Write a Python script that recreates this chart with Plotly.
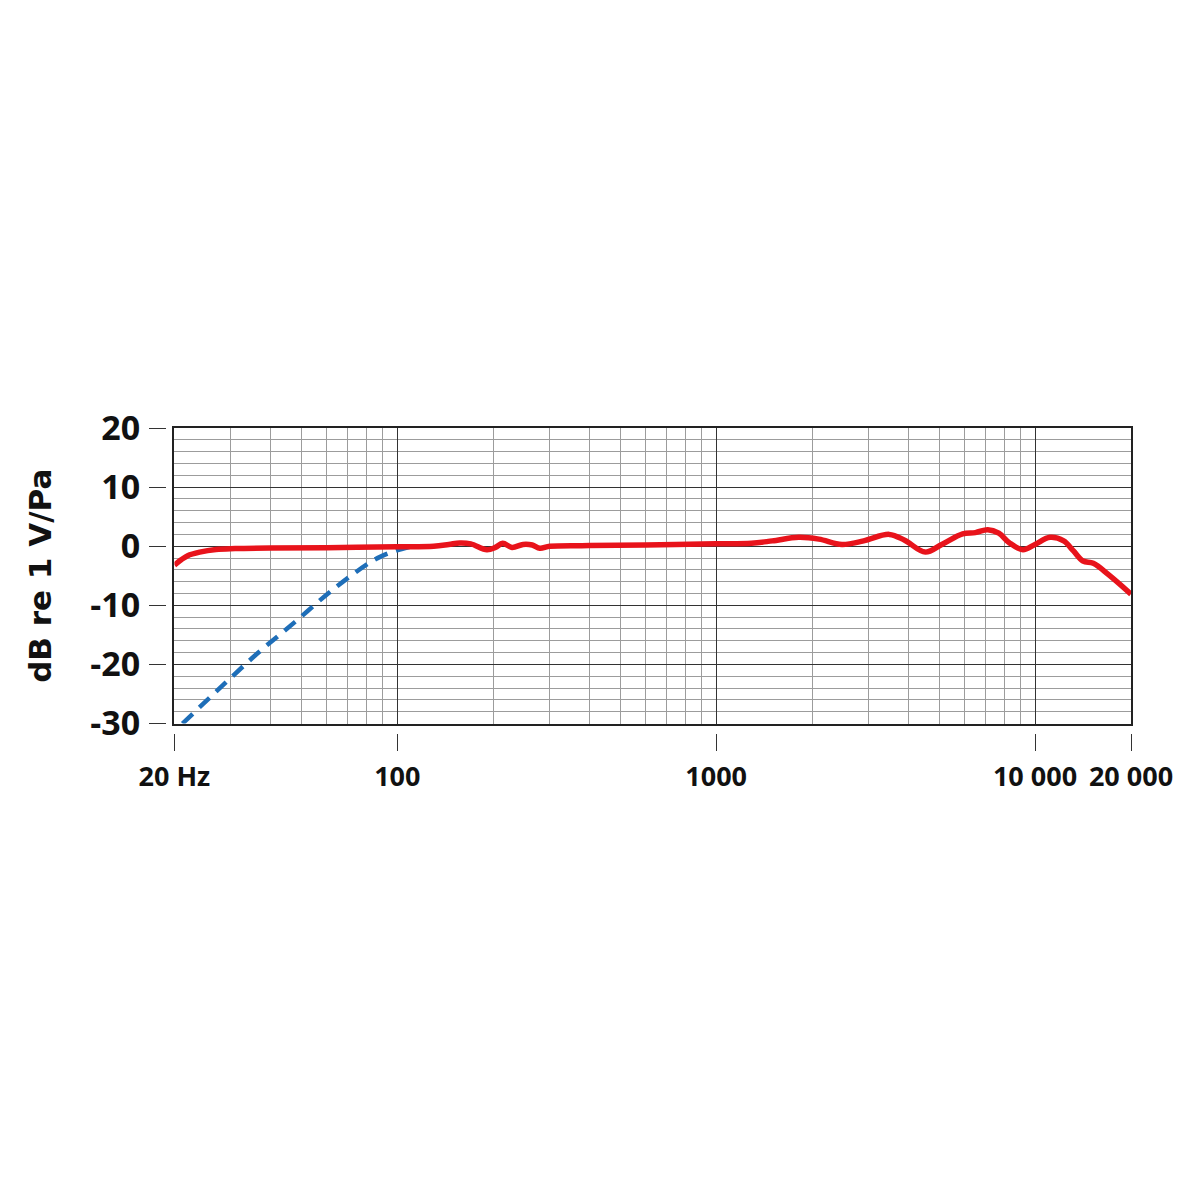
import math
import plotly.graph_objects as go

# frequency response (Hz, dB re 1 V/Pa)
red_freq = [20, 21, 22, 24, 27, 31, 40, 60, 100, 130, 145, 157, 170, 191, 203, 214, 229,
            248, 265, 280, 301, 400, 600, 1000, 1290, 1500, 1815, 2100, 2480, 2900, 3490,
            3900, 4530, 5100, 5930, 6500, 7110, 7700, 8300, 9160, 10000, 11150, 12300,
            13200, 14150, 15230, 17000, 20000]
red_db = [-3.2, -2.3, -1.6, -1.0, -0.55, -0.4, -0.3, -0.25, -0.1, 0.0, 0.3, 0.55, 0.4,
          -0.6, -0.2, 0.5, -0.2, 0.3, 0.2, -0.35, 0.0, 0.1, 0.2, 0.4, 0.5, 0.9, 1.5, 1.2,
          0.3, 0.9, 2.0, 1.0, -1.0, 0.3, 2.1, 2.3, 2.8, 2.2, 0.6, -0.6, 0.3, 1.5, 0.9,
          -0.8, -2.5, -2.9, -4.8, -8.1]

# low cut filter
blue_freq = [21.2, 27.9, 36.3, 47.8, 62.9, 81.8, 90, 99.2, 110]
blue_db = [-30.0, -23.9, -18.2, -12.8, -7.3, -2.8, -1.6, -0.75, -0.1]

x_tickvals = [20, 100, 1000, 10000, 20000]
x_ticktext = ["20 Hz", "100", "1000", "10 000", "20 000"]
y_tickvals = [20, 10, 0, -10, -20, -30]
y_ticktext = ["20", "10", "0", "-10", "-20", "-30"]

# tiny pad so the edge ticks (20 Hz / 20 000) are not dropped
xr = [math.log10(20) - 1e-6, math.log10(20000) + 1e-6]
yr = [-30, 20]
ink = "#111111"

fig = go.Figure()
# blue sits on the grid axes, red on the overlaid tick axes (drawn on top)
fig.add_trace(go.Scatter(x=blue_freq, y=blue_db, mode="lines", line_shape="spline",
                         line=dict(color="#1E6EB8", width=4.5, dash="14px,9px"),
                         hoverinfo="skip"))
fig.add_trace(go.Scatter(x=red_freq, y=red_db, mode="lines", line_shape="spline",
                         xaxis="x2", yaxis="y2",
                         line=dict(color="#E8131B", width=5.5), hoverinfo="skip"))

fig.update_layout(
    width=1200, height=1200,
    margin=dict(l=141, r=77, t=420, b=458),
    paper_bgcolor="white", plot_bgcolor="white",
    showlegend=False,
    font=dict(family="Open Sans", size=25, color=ink),
    xaxis=dict(type="log", range=xr, domain=[0.0259, 1],
               showline=True, mirror=True, linecolor="#222", linewidth=1.5,
               tickvals=[100, 1000, 10000], showticklabels=False, ticks="",
               gridcolor="#333333", gridwidth=1.3,
               minor=dict(dtick="D1", showgrid=True, gridcolor="#9c9c9c", gridwidth=1.4,
                          ticks="")),
    yaxis=dict(range=yr, domain=[0.0822, 1],
               showline=True, mirror=True, linecolor="#222", linewidth=1.5,
               tickvals=[10, 0, -10, -20], showticklabels=False, ticks="",
               gridcolor="#333333", gridwidth=1.3, zeroline=False,
               minor=dict(dtick=2, showgrid=True, gridcolor="#9c9c9c", gridwidth=1.4,
                          ticks="")),
    # separate tick axes, set slightly off the frame like the original
    xaxis2=dict(type="log", range=xr, overlaying="x", anchor="free", position=0.0526,
                side="bottom", showgrid=False, showline=False, zeroline=False,
                tickvals=x_tickvals, ticktext=x_ticktext, ticks="outside", ticklen=17,
                tickwidth=1.4, tickcolor="#333", ticklabelstandoff=3,
                tickfont=dict(family="Open Sans", size=27, color=ink, weight="bold")),
    yaxis2=dict(range=yr, overlaying="y", anchor="free", position=0.0173, side="left",
                showgrid=False, showline=False, zeroline=False,
                tickvals=y_tickvals, ticktext=y_ticktext, ticks="outside", ticklen=17,
                tickwidth=1.4, tickcolor="#333", ticklabelstandoff=2,
                tickfont=dict(family="Open Sans", size=34, color=ink, weight="bold"),
                title=dict(text="dB re 1 V/Pa", standoff=28,
                           font=dict(family="DejaVu Sans", size=31, color=ink,
                                     weight="bold"))),
)

fig.write_html("out.html")
